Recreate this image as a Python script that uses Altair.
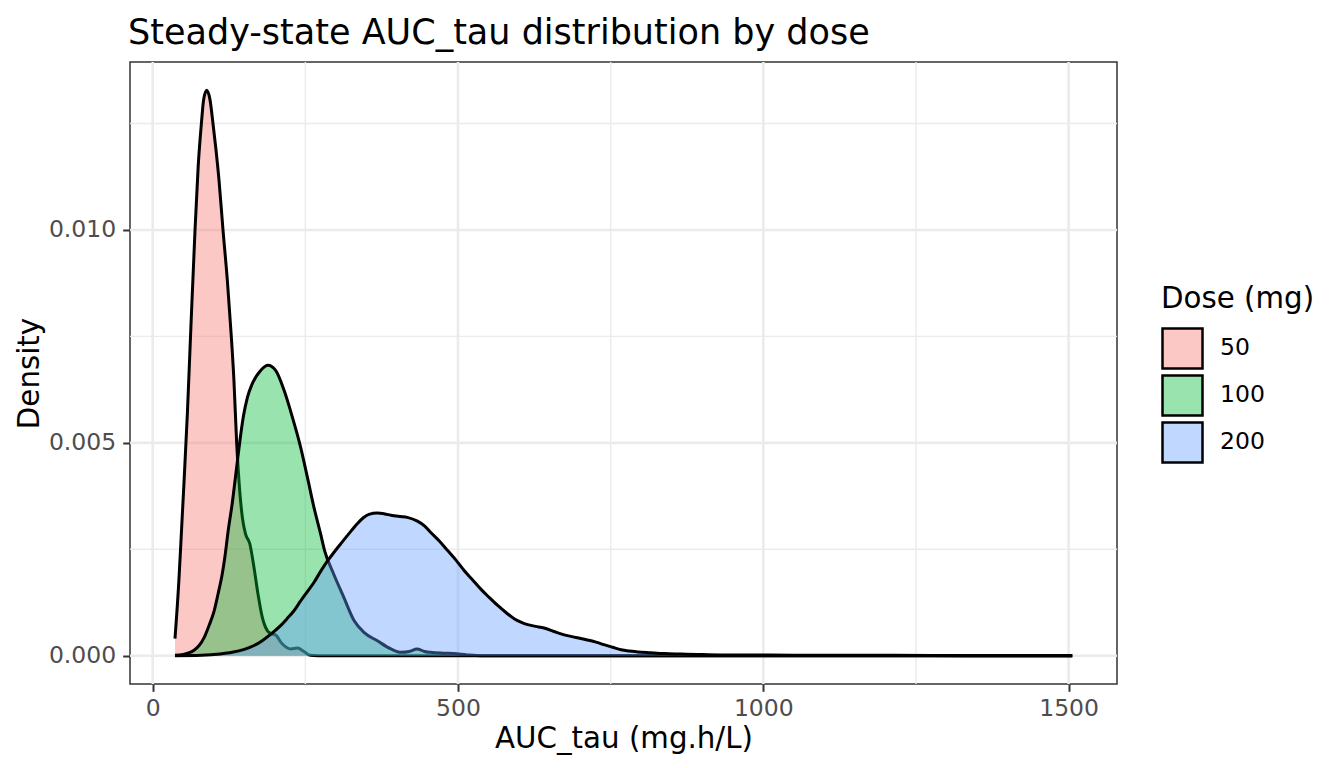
import altair as alt
import pandas as pd

DOSES = ["50", "100", "200"]
FILL = ["#F8766D", "#00BA38", "#619CFF"]
KEY = ["#FCC8C5", "#99E3AF", "#C0D7FF"]

auc_50 = [36.5, 43, 47, 51, 56.8, 62.2, 69.3, 74.5, 79.7, 83.4, 88.4, 93.8, 98.7,
          103.5, 108.5, 115.1, 122.2, 128.7, 133, 137.5, 141.3, 146.8, 152, 159,
          165.8, 172.4, 179.5, 187.7, 194, 201, 212, 226, 237, 247.7, 258, 270, 1506]
den_50 = [0.0004, 0.0018, 0.0029, 0.004, 0.0057, 0.0076, 0.0100, 0.0115, 0.0125,
          0.01306, 0.01328, 0.01306, 0.0125, 0.0119, 0.01118, 0.0100, 0.00882,
          0.0075, 0.00647, 0.0050, 0.0041, 0.00325, 0.00286, 0.00263, 0.00208,
          0.00145, 0.0009, 0.00059, 0.00052, 0.00049, 0.00028, 0.00016, 0.00018,
          0.0001, 0.00001, 0.0, 0.0]

auc_100 = [36.5, 50, 60, 67.6, 76, 84, 92, 100.4, 107, 114, 118, 123.3, 130.4,
           137.5, 142.9, 148.4, 155, 163.1, 176.8, 188.8, 201.3, 215, 228.6,
           242.2, 253.2, 264, 275, 281.5, 296, 313, 330, 346, 368, 390, 407, 420,
           433, 445, 455, 475, 493, 515, 540, 1506]
den_100 = [0.00001, 0.00003, 0.00007, 0.00013, 0.00024, 0.00042, 0.0007, 0.00104,
           0.00145, 0.00193, 0.0023, 0.0029, 0.0036, 0.00443, 0.00506, 0.00561,
           0.00606, 0.00639, 0.0067, 0.00682, 0.0067, 0.00624, 0.00561, 0.0049,
           0.0042, 0.00349, 0.00286, 0.00247, 0.00193, 0.00137, 0.00082, 0.00055,
           0.00035, 0.00016, 0.00008, 0.0001, 0.00016, 0.0001, 0.00008, 0.00006,
           0.00005, 0.00002, 0.0, 0.0]

auc_200 = [36.5, 80, 110, 130, 150, 166, 180, 193, 209, 220, 231, 242, 253, 264,
           275, 286, 297, 308, 322, 335, 345, 354, 368, 380, 390, 405, 417, 433.6,
           445, 455, 469, 483, 497, 510, 524, 537, 551, 565, 579, 592, 603, 614,
           627, 641, 657, 674, 693, 712, 726, 739, 753, 767, 780, 794, 815, 838,
           865, 892, 930, 974, 1050, 1200, 1350, 1506]
den_200 = [0.0, 0.00001, 0.00004, 0.00008, 0.00015, 0.00024, 0.00036, 0.0005,
           0.0007, 0.00087, 0.00105, 0.00128, 0.0015, 0.00172, 0.00198, 0.00222,
           0.00243, 0.00263, 0.00288, 0.0031, 0.00324, 0.00332, 0.00335, 0.00333,
           0.0033, 0.00327, 0.00325, 0.00316, 0.00305, 0.0029, 0.0027, 0.00247,
           0.00224, 0.002, 0.00178, 0.00157, 0.00137, 0.00118, 0.00101, 0.00087,
           0.00079, 0.00073, 0.00069, 0.00065, 0.00057, 0.00049, 0.00043, 0.00037,
           0.00032, 0.00026, 0.0002, 0.00014, 0.00011, 0.00009, 0.00007, 0.00005,
           0.00004, 0.00003, 0.00002, 0.00002, 0.00001, 0.00001, 0.0, 0.0]

X_TICKS = [0, 500, 1000, 1500]
X_MINOR = [250, 750, 1250]
Y_TICKS = [0.0, 0.005, 0.010]
Y_MINOR = [0.0025, 0.0075, 0.0125]

FONT = "DejaVu Sans"

curves = pd.concat(
    [pd.DataFrame({"auc": a, "density": d, "dose": k})
     for k, a, d in zip(DOSES, [auc_50, auc_100, auc_200], [den_50, den_100, den_200])],
    ignore_index=True,
)

xscale = alt.Scale(domain=[-37.2, 1579.3], nice=False, zero=False)
yscale = alt.Scale(domain=[-0.000664, 0.013944], nice=False, zero=False)
xaxis = alt.Axis(values=X_TICKS, format="d", title="AUC_tau (mg.h/L)", labelFlush=False)
yaxis = alt.Axis(values=Y_TICKS, format=".3f", title="Density", labelFlush=False)


def X(field):
    return alt.X(f"{field}:Q", scale=xscale, axis=xaxis)


def Y(field):
    return alt.Y(f"{field}:Q", scale=yscale, axis=yaxis)


layers = []
layers.append(alt.Chart(pd.DataFrame({"v": X_MINOR})).mark_rule(color="#EBEBEB", strokeWidth=1.4).encode(x=X("v")))
layers.append(alt.Chart(pd.DataFrame({"v": Y_MINOR})).mark_rule(color="#EBEBEB", strokeWidth=1.4).encode(y=Y("v")))
layers.append(alt.Chart(pd.DataFrame({"v": X_TICKS})).mark_rule(color="#EBEBEB", strokeWidth=2.6).encode(x=X("v")))
layers.append(alt.Chart(pd.DataFrame({"v": Y_TICKS})).mark_rule(color="#EBEBEB", strokeWidth=2.6).encode(y=Y("v")))

for dose, fill in zip(DOSES, FILL):
    base = alt.Chart(curves).transform_filter(alt.datum.dose == dose)
    layers.append(
        base.mark_area(fill=fill, fillOpacity=0.4, interpolate="monotone").encode(
            x=X("auc"), y=Y("density"), y2=alt.datum(0)
        )
    )
    layers.append(
        base.mark_line(color="black", strokeWidth=3, interpolate="monotone").encode(
            x=X("auc"), y=Y("density")
        )
    )

legend_layer = (
    alt.Chart(pd.DataFrame({"dose": DOSES}))
    .transform_filter("false")
    .mark_square(opacity=1, filled=True, stroke="black", strokeWidth=2.5)
    .encode(
        color=alt.Color(
            "dose:N",
            sort=DOSES,
            scale=alt.Scale(domain=DOSES, range=KEY),
            legend=alt.Legend(
                title="Dose (mg)",
                orient="none",
                legendX=1031,
                legendY=222.6,
                symbolType="square",
                symbolSize=1600,
                symbolStrokeColor="black",
                symbolStrokeWidth=2.5,
                symbolOpacity=1,
                titleFont=FONT,
                titleFontSize=29.3,
                titleFontWeight="normal",
                titleColor="black",
                titlePadding=13,
                labelFont=FONT,
                labelFontSize=23.5,
                labelColor="black",
                labelOffset=16,
                rowPadding=-5,
                padding=0,
            ),
        )
    )
)
layers.append(legend_layer)

chart = (
    alt.layer(*layers)
    .properties(
        width=987,
        height=622,
        padding={"left": 122, "top": 54, "right": 200, "bottom": 74},
        autosize=alt.AutoSizeParams(type="none"),
        title=alt.TitleParams(
            text="Steady-state AUC_tau distribution by dose",
            anchor="start",
            frame="group",
            font=FONT,
            fontSize=35,
            fontWeight="normal",
            color="black",
            offset=10,
            dx=-2,
        ),
    )
    .configure_view(stroke="#333333", strokeWidth=1.5)
    .configure_axis(
        labelFont=FONT,
        labelFontSize=23.5,
        labelColor="#4D4D4D",
        titleFont=FONT,
        titleFontSize=29.3,
        titleFontWeight="normal",
        titleColor="black",
        tickColor="#333333",
        tickWidth=2,
        tickSize=7.3,
        domain=False,
        grid=False,
    )
    .configure_axisX(labelPadding=5, titlePadding=5)
    .configure_axisY(labelPadding=7, titlePadding=4)
)

chart.save("out.html", embed_options={"renderer": "svg", "actions": False})
